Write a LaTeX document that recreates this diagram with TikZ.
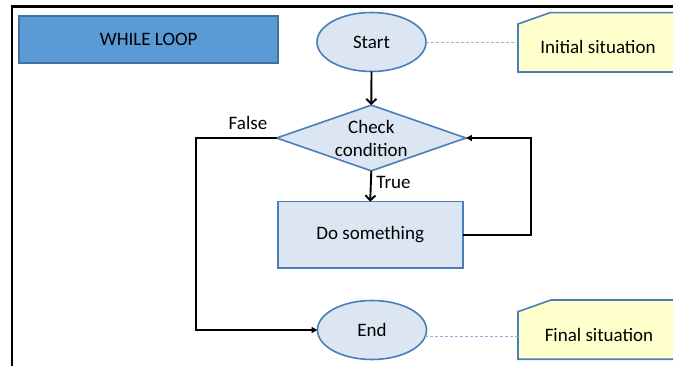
\documentclass[tikz,border=0pt]{standalone}
\usepackage{fontspec}
\setmainfont{Carlito}
\usetikzlibrary{shapes.geometric,arrows.meta}
\definecolor{titlefill}{HTML}{5B9BD5}
\definecolor{titleborder}{HTML}{41719C}
\definecolor{shapefill}{HTML}{DCE6F2}
\definecolor{shapeborder}{HTML}{4A7EBB}
\definecolor{notefill}{HTML}{FFFFCC}
\definecolor{noteborder}{HTML}{4A7EBB}
\definecolor{dashblue}{HTML}{8DB3E2}
\tikzset{
  base/.style={font=\fontsize{19}{23}\selectfont, inner sep=0pt, outer sep=0pt},
  flowshape/.style={base, draw=shapeborder, fill=shapefill, line width=1.6pt},
  terminal/.style={flowshape, ellipse, minimum width=109pt, minimum height=59pt},
  flow/.style={draw=black, line width=1.9pt},
  vtip/.style={-{Straight Barb[length=5pt,width=10pt,line width=1.9pt]}},
  ttip/.style={-{Triangle[length=6pt,width=6pt]}},
  guide/.style={draw=dashblue, line width=0.8pt, dash pattern=on 3pt off 2pt},
  note/.style={draw=noteborder, fill=notefill, line width=1.6pt},
  lbl/.style={base}
}
\begin{document}
\begin{tikzpicture}[x=1pt,y=-1pt]
\useasboundingbox (0,0) rectangle (673,366);
\clip (0,0) rectangle (673,366);
\fill[white] (0,0) rectangle (673,366);
% frame
\draw[line width=2.5pt] (12,380) -- (12,6.5) -- (690,6.5);
% title
\node[base, draw=titleborder, fill=titlefill, line width=1.6pt, minimum width=259pt, minimum height=47pt] (title) at (148.7,39.7) {WHILE LOOP};
% notes
\draw[note] (518,24) -- (550,12.7) -- (700,12.7) -- (700,72) -- (518,72) -- cycle;
\draw[note] (518,311.7) -- (551,300) -- (700,300) -- (700,359.3) -- (518,359.3) -- cycle;
\node[base, minimum width=182pt, minimum height=59pt, anchor=west] (init) at (518,42.3) {};
\node[base] (inittext) at (598,47) {Initial situation};
\node[base, minimum width=182pt, minimum height=59pt, anchor=west] (fin) at (518,335) {};
\node[base] (fintext) at (599,335) {Final situation};
% flow shapes
\node[terminal] (start) at (371.5,42) {Start};
\node[flowshape, diamond, minimum width=189.3pt, minimum height=65.7pt,
  label={[base, align=center]center:Check\\condition}] (chk) at (371.3,138) {};
\node[flowshape, minimum width=185pt, minimum height=66.6pt] (do) at (370.2,235) {Do something};
\node[terminal] (end) at (372,330) {End};
% guides
\draw[guide] (start.east) -- (start.east -| init.west);
\draw[guide] (end.-7) -- (end.-7 -| fin.west);
% connectors
\draw[flow, vtip] (start.south) -- (chk.north);
\draw[flow, vtip] (chk.south) -- (do.north);
\coordinate (loopc) at (531,0);
\draw[flow, ttip] (do.east) -- (do.east -| loopc) -- (chk.east -| loopc) -- (chk.east);
\coordinate (falsec) at (196,0);
\draw[flow, ttip] (chk.west) -- (chk.west -| falsec) -- (end.west -| falsec) -- (end.west);
% labels
\node[lbl] (truel) at (393.5,182) {True};
\node[lbl] (falsel) at (248,123) {False};
\end{tikzpicture}
\end{document}
